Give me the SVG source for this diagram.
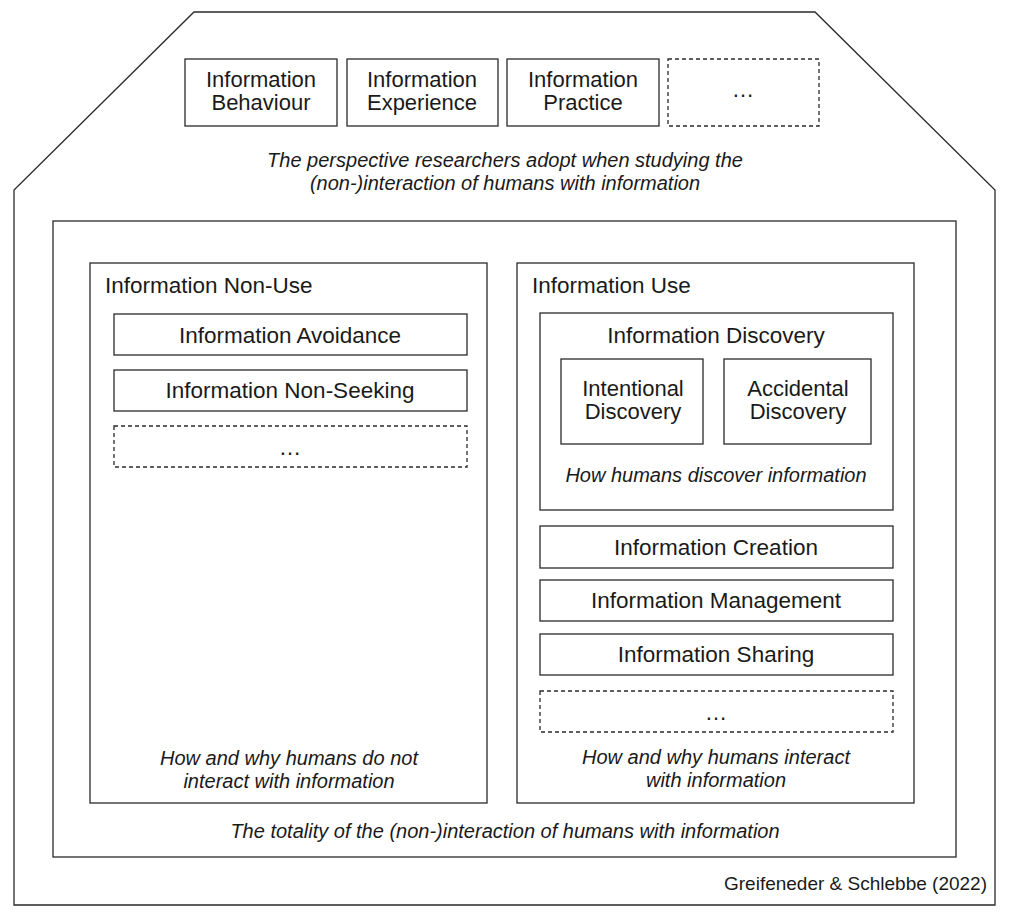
<svg xmlns="http://www.w3.org/2000/svg" width="1010" height="920" viewBox="0 0 1010 920">
<style>
.b{fill:#fff;stroke:#2a2a2a;stroke-width:1.3}
.d{fill:#fff;stroke:#2a2a2a;stroke-width:1.3;stroke-dasharray:4 3}
.t{font-family:"Liberation Sans",Arial,sans-serif;font-size:22.5px;fill:#1a1a1a;text-anchor:middle}
.t2{font-family:"Liberation Sans",Arial,sans-serif;font-size:22px;fill:#1a1a1a;text-anchor:middle}
.l{font-family:"Liberation Sans",Arial,sans-serif;font-size:22.5px;fill:#1a1a1a}
.i{font-family:"Liberation Sans",Arial,sans-serif;font-size:20px;font-style:italic;fill:#1a1a1a;text-anchor:middle}
.c{font-family:"Liberation Sans",Arial,sans-serif;font-size:19px;fill:#1a1a1a;text-anchor:end}
</style>
<rect width="1010" height="920" fill="#fff"/>
<g id="house">
<polygon class="b" points="194,12 815,12 995,190 995,905 14,905 14,190"/>
<text class="i" x="505" y="167">The perspective researchers adopt when studying the</text>
<text class="i" x="505" y="190">(non-)interaction of humans with information</text>
<text class="c" x="987" y="890">Greifeneder &amp; Schlebbe (2022)</text>
</g>
<g id="behaviour"><rect class="b" x="185" y="59" width="152" height="67"/><text class="t2" x="261" y="87">Information</text><text class="t2" x="261" y="110">Behaviour</text></g>
<g id="experience"><rect class="b" x="347" y="59" width="151" height="67"/><text class="t2" x="422" y="87">Information</text><text class="t2" x="422" y="110">Experience</text></g>
<g id="practice"><rect class="b" x="507" y="59" width="152" height="67"/><text class="t2" x="583" y="87">Information</text><text class="t2" x="583" y="110">Practice</text></g>
<g id="perspective-more"><rect class="d" x="668" y="59" width="151" height="67"/><text class="t" x="743" y="97">…</text></g>
<g id="totality">
<rect class="b" x="53" y="221" width="903" height="636"/>
<text class="i" x="505" y="838">The totality of the (non-)interaction of humans with information</text>
</g>
<g id="non-use">
<rect class="b" x="90" y="263" width="397" height="540"/>
<text class="l" x="105" y="293">Information Non-Use</text>
<text class="i" x="289" y="765">How and why humans do not</text>
<text class="i" x="289" y="788">interact with information</text>
</g>
<g id="avoidance"><rect class="b" x="114" y="314" width="353" height="41"/><text class="t" x="290" y="343">Information Avoidance</text></g>
<g id="non-seeking"><rect class="b" x="114" y="370" width="353" height="41"/><text class="t" x="290" y="398">Information Non-Seeking</text></g>
<g id="non-use-more"><rect class="d" x="114" y="426" width="353" height="41"/><text class="t" x="290" y="455">…</text></g>
<g id="use">
<rect class="b" x="517" y="263" width="397" height="540"/>
<text class="l" x="532" y="293">Information Use</text>
<text class="i" x="716" y="764">How and why humans interact</text>
<text class="i" x="716" y="787">with information</text>
</g>
<g id="discovery">
<rect class="b" x="540" y="313" width="353" height="197"/>
<text class="t" x="716" y="343">Information Discovery</text>
<text class="i" x="716" y="482">How humans discover information</text>
</g>
<g id="intentional"><rect class="b" x="561" y="359" width="142" height="85"/><text class="t2" x="633" y="396">Intentional</text><text class="t2" x="633" y="419">Discovery</text></g>
<g id="accidental"><rect class="b" x="724" y="359" width="147" height="85"/><text class="t2" x="798" y="396">Accidental</text><text class="t2" x="798" y="419">Discovery</text></g>
<g id="creation"><rect class="b" x="540" y="526" width="353" height="42"/><text class="t" x="716" y="555">Information Creation</text></g>
<g id="management"><rect class="b" x="540" y="580" width="353" height="41"/><text class="t" x="716" y="608">Information Management</text></g>
<g id="sharing"><rect class="b" x="540" y="634" width="353" height="41"/><text class="t" x="716" y="662">Information Sharing</text></g>
<g id="use-more"><rect class="d" x="540" y="691" width="353" height="41"/><text class="t" x="716" y="720">…</text></g>
<g id="connectors"></g>
</svg>
